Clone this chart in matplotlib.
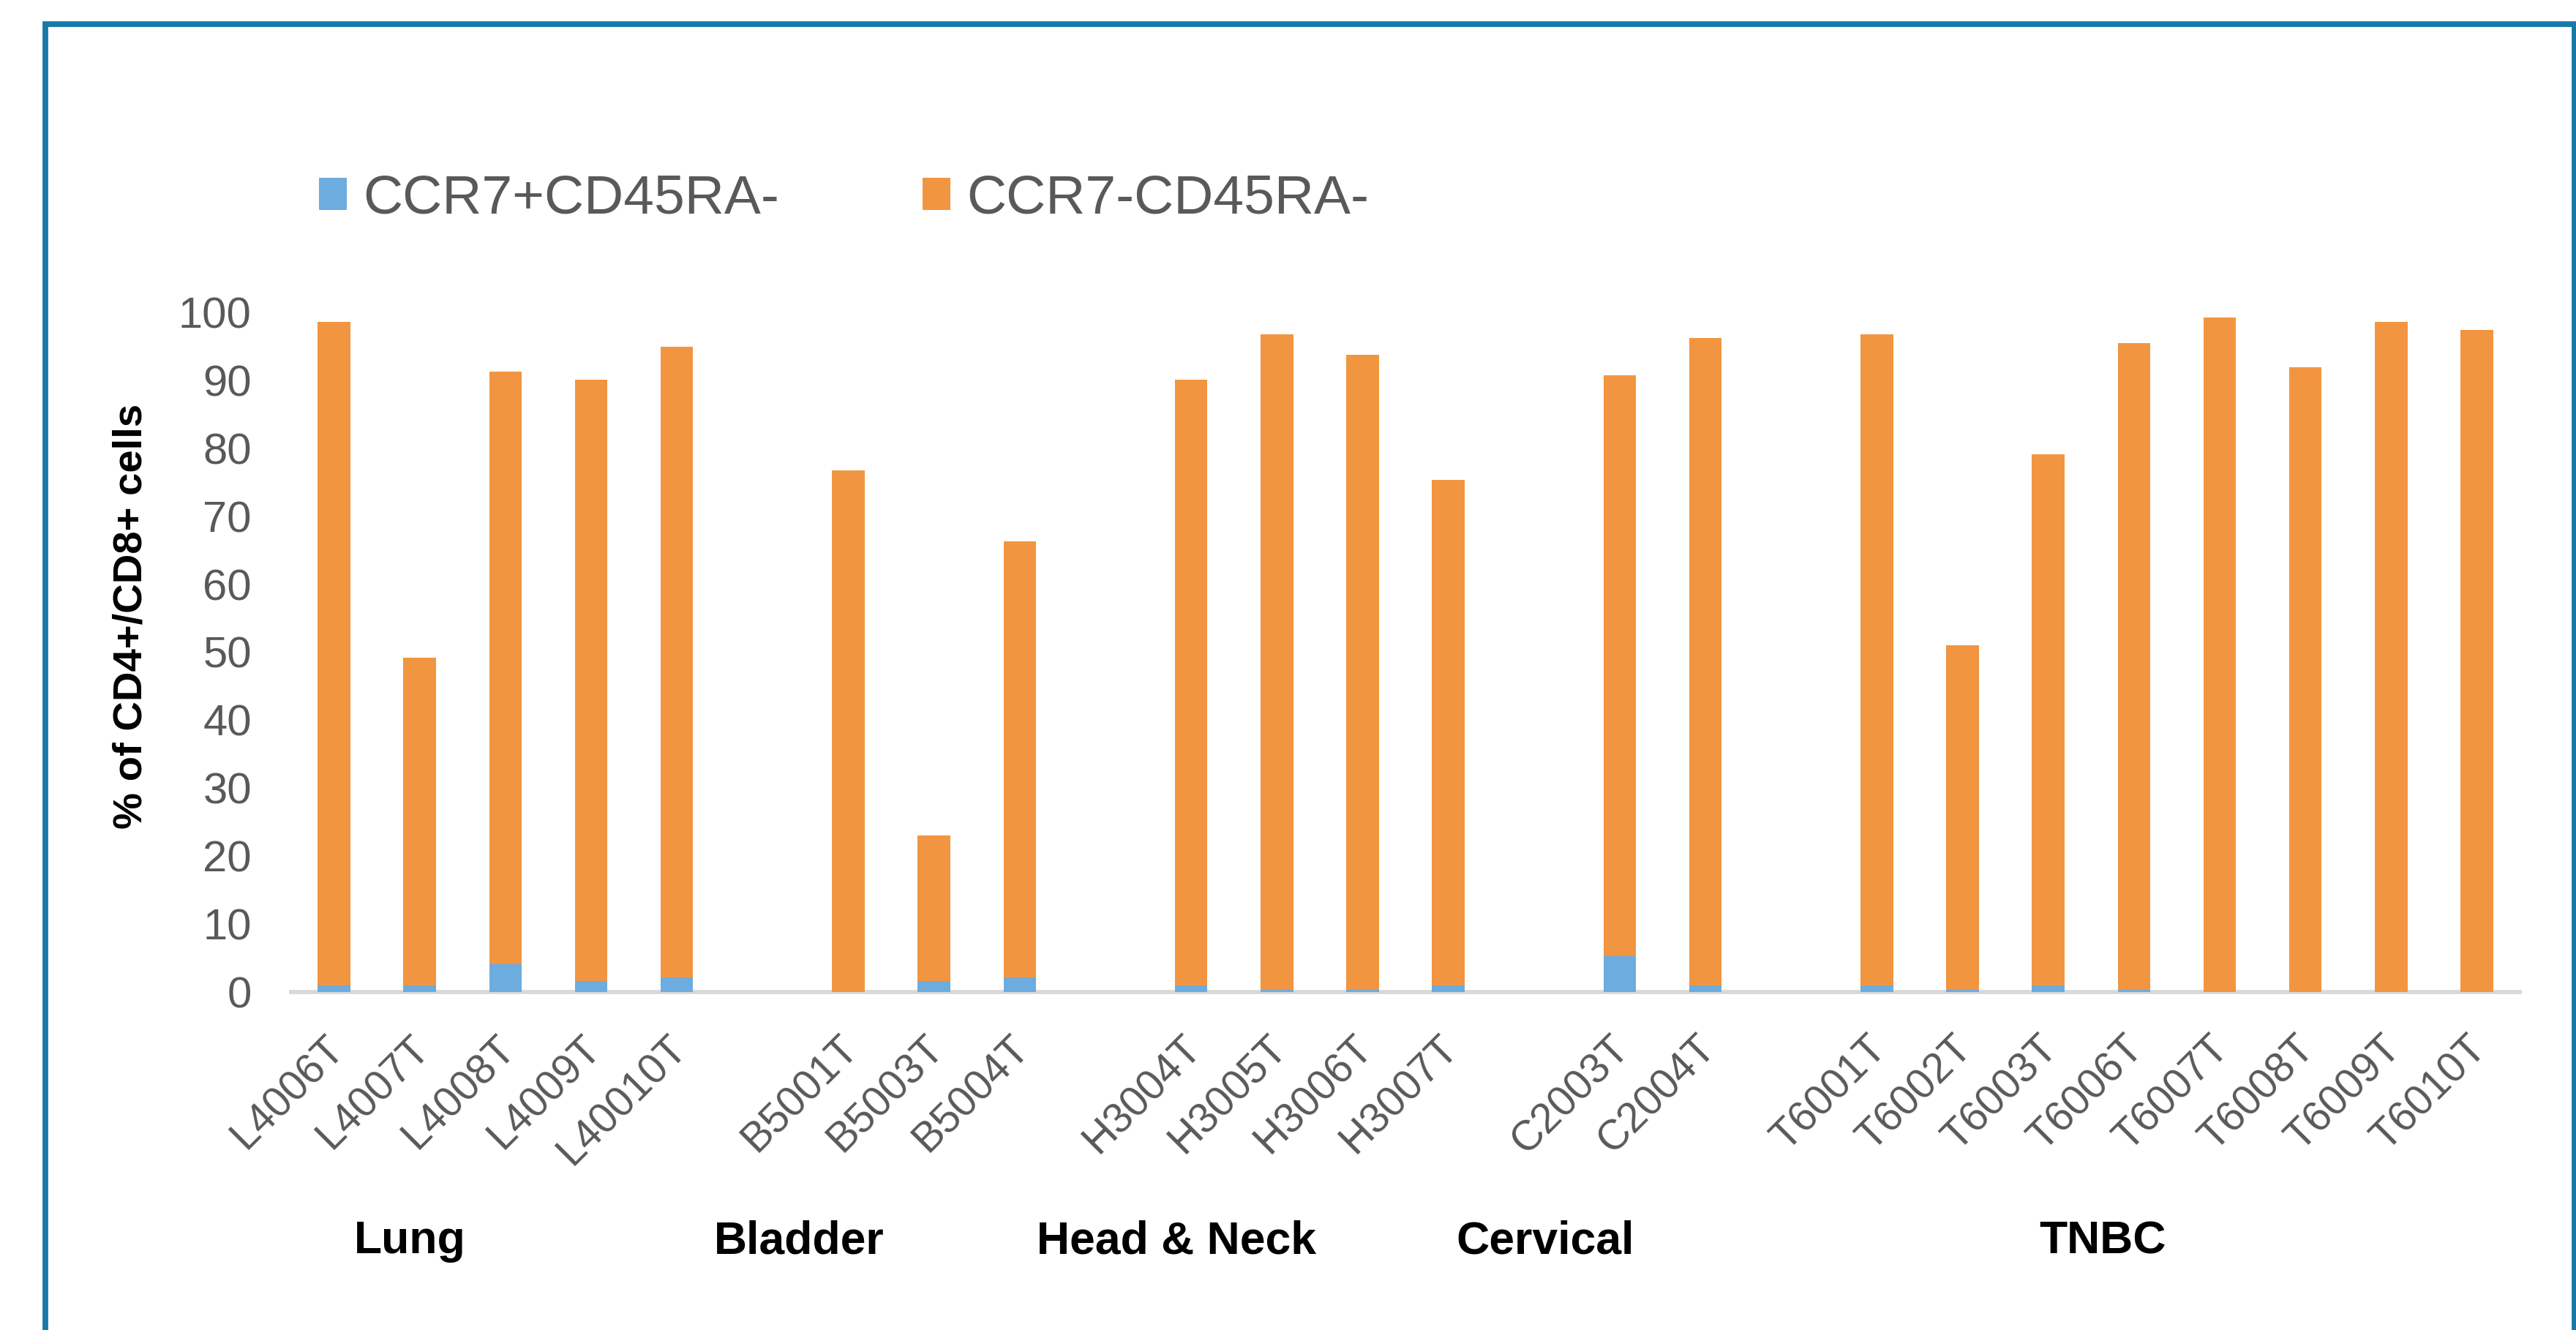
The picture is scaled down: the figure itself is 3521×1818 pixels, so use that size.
import matplotlib
matplotlib.use("Agg")
import matplotlib.pyplot as plt
from matplotlib.patches import Rectangle
import matplotlib.transforms as mtransforms

plt.rcParams['font.family'] = ['Liberation Sans', 'DejaVu Sans']

# ---- data ----
groups = ["Lung", "Bladder", "Head & Neck", "Cervical", "TNBC"]
group_sizes = [5, 3, 4, 2, 8]
samples = ["L4006T", "L4007T", "L4008T", "L4009T", "L40010T",
           "B5001T", "B5003T", "B5004T",
           "H3004T", "H3005T", "H3006T", "H3007T",
           "C2003T", "C2004T",
           "T6001T", "T6002T", "T6003T", "T6006T", "T6007T", "T6008T", "T6009T", "T6010T"]
ccr7pos = [1.0, 1.0, 4.1, 1.6, 2.2,
           0.05, 1.6, 2.2,
           1.0, 0.35, 0.35, 1.0,
           5.3, 1.0,
           1.0, 0.35, 1.0, 0.35, 0.05, 0.05, 0.05, 0.05]
ccr7neg = [97.6, 48.2, 87.2, 88.5, 92.7,
           76.65, 21.4, 64.1,
           89.1, 96.45, 93.4, 74.4,
           85.4, 95.2,
           95.8, 50.65, 78.1, 95.15, 99.15, 91.85, 98.55, 97.35]
yticks = [0, 10, 20, 30, 40, 50, 60, 70, 80, 90, 100]

BLUE = '#6DACDE'
ORANGE = '#F29540'
GREY = '#595959'

W, H = 3521, 1818
fig = plt.figure(figsize=(W / 100, H / 100), dpi=100)

# positions: one empty slot between groups
positions = []
slot = 0
for gs in group_sizes:
    for _ in range(gs):
        positions.append(slot)
        slot += 1
    slot += 1
nslots = slot - 1

ax = fig.add_axes([398 / W, (H - 1356) / H, (3444 - 398) / W, 929 / H])
ax.bar(positions, ccr7pos, width=0.38, color=BLUE, label="CCR7+CD45RA-", zorder=2)
ax.bar(positions, ccr7neg, width=0.38, bottom=ccr7pos, color=ORANGE, label="CCR7-CD45RA-", zorder=2)

ax.set_xlim(-0.5, nslots - 0.5)
ax.set_ylim(0, 100)
for s in ['top', 'right', 'left']:
    ax.spines[s].set_visible(False)
ax.spines['bottom'].set_color('#D9D9D9')
ax.spines['bottom'].set_linewidth(4.2)
ax.spines['bottom'].set_zorder(1)

ax.set_yticks(yticks)
ax.set_yticklabels([str(v) for v in yticks], fontsize=43, color=GREY)
ax.tick_params(axis='y', length=0, pad=39)

ax.set_xticks(positions)
ax.set_xticklabels(samples, fontsize=41, color=GREY)
ax.tick_params(axis='x', length=0, pad=36)
offset = mtransforms.ScaledTranslation(-14 / 100, 0, fig.dpi_scale_trans)
for lab in ax.get_xticklabels():
    lab.set_rotation(45)
    lab.set_ha('right')
    lab.set_va('top')
    lab.set_rotation_mode('anchor')
    lab.set_transform(lab.get_transform() + offset)

# y label
fig.text(180 / W, (H - 842) / H, "% of CD4+/CD8+ cells", rotation=90,
         ha='center', va='center', fontsize=40.5, fontweight='bold', color='black')

# legend
leg = fig.legend(loc='center left', bbox_to_anchor=(436 / W, (H - 272) / H),
                 ncol=2, frameon=False, fontsize=54, borderpad=0,
                 handlelength=0.51, handleheight=0.52, handletextpad=0.3,
                 columnspacing=2.6, borderaxespad=0)
for t in leg.get_texts():
    t.set_color(GREY)

# group labels
group_x = [560, 1092, 1608, 2112, 2874]
for g, gx in zip(groups, group_x):
    fig.text(gx / W, (H - 1713) / H, g, ha='center', va='baseline',
             fontsize=45, fontweight='bold', color='black')

# border
border = Rectangle((62 / W, -0.2), (3519 - 62) / W, (H - 32.5) / H + 0.2,
                   transform=fig.transFigure, fill=False, edgecolor='#1779AA',
                   linewidth=5.6, zorder=10)
fig.patches.append(border)

fig.savefig("out.png", dpi=100)
